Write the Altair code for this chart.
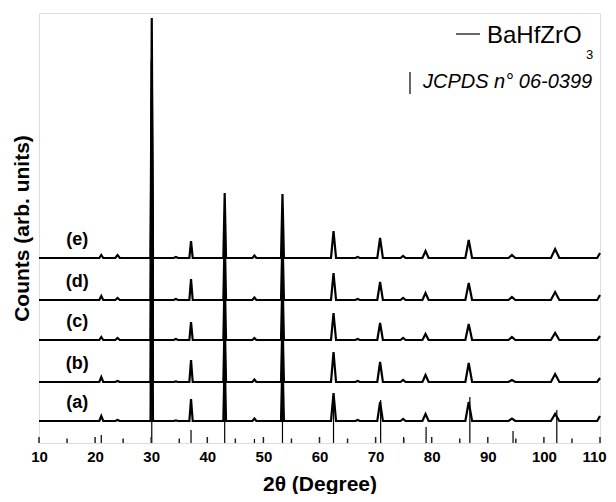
import altair as alt
import pandas as pd

# ---- data ----
peak_pos = [21.1, 24.0, 30.1, 34.4, 37.1, 43.1, 48.4, 53.4, 62.5, 66.8, 70.8, 74.9, 78.9, 86.6, 94.3, 102.0]
peak_halfwidth = [0.35, 0.4, 0.22, 0.4, 0.3, 0.24, 0.35, 0.26, 0.45, 0.4, 0.5, 0.45, 0.55, 0.6, 0.6, 0.75]

heights_a = [5, 1, 240, 0.5, 22, 65, 2.5, 64, 28, 1, 19, 2, 7, 19, 2.5, 7]
heights_b = [5, 1, 240, 0.5, 22, 65, 2.5, 64, 30, 1, 20, 2, 7, 19, 2, 8]
heights_c = [3, 2, 240, 1, 18, 65, 2, 64, 27, 1, 17, 2, 6, 16, 3, 7]
heights_d = [4, 2, 240, 1, 21, 65, 2.5, 64, 27, 1, 18, 2, 7, 17, 3, 8]
heights_e = [3, 3, 240, 1, 17, 65, 2.5, 64, 27, 1, 20, 2, 7, 18, 3, 9]

trace_names = ["(a)", "(b)", "(c)", "(d)", "(e)"]
trace_offsets = [22, 61, 103, 143, 185]
trace_heights = [heights_a, heights_b, heights_c, heights_d, heights_e]
edge_rise = [5, 4, 4, 5, 5]

jcpds_pos = [21.1, 30.1, 37.1, 43.1, 48.4, 53.4, 62.5, 70.9, 75.0, 79.0, 86.8, 94.5, 102.3]
jcpds_height = [8, 150, 13, 80, 4, 80, 45, 43, 6, 16, 46, 12, 33]

major_ticks = [10, 20, 30, 40, 50, 60, 70, 80, 90, 100, 110]
minor_ticks = [15, 25, 35, 45, 55, 65, 75, 85, 95, 105]

X_MIN, X_MAX = 10, 110
Y_MAX = 430

# ---- build tables ----
rows = []
for name, base, hs, er in zip(trace_names, trace_offsets, trace_heights, edge_rise):
    i = 0
    rows.append({"trace": name, "x": X_MIN, "y": base, "o": i}); i += 1
    for p, w, h in zip(peak_pos, peak_halfwidth, hs):
        for xx, yy in ((p - w, base), (p, base + h), (p + w, base)):
            rows.append({"trace": name, "x": xx, "y": yy, "o": i}); i += 1
    rows.append({"trace": name, "x": X_MAX - 0.5, "y": base, "o": i}); i += 1
    rows.append({"trace": name, "x": X_MAX, "y": base + er, "o": i}); i += 1
traces = pd.DataFrame(rows)

labels = pd.DataFrame({"trace": trace_names, "x": [16.8] * 5,
                       "y": [b + 18 for b in trace_offsets]})
jcpds = pd.DataFrame({"x": jcpds_pos, "y0": [0] * len(jcpds_pos), "y1": jcpds_height})
ticks = pd.DataFrame({"x": major_ticks + minor_ticks,
                      "y0": [0] * (len(major_ticks) + len(minor_ticks)),
                      "y1": [6] * len(major_ticks) + [4.5] * len(minor_ticks)})

FONT = "Liberation Sans"

xscale = alt.Scale(domain=[X_MIN, X_MAX], nice=False, zero=False)
yscale = alt.Scale(domain=[0, Y_MAX], nice=False, zero=False)

xaxis = alt.Axis(values=major_ticks, ticks=False, domain=False, grid=False,
                 labelFont=FONT, labelFontSize=15, labelFontWeight="bold",
                 labelColor="black", labelPadding=6, labelFlush=False,
                 labelOffset=alt.condition("datum.value == 110", alt.value(-6), alt.value(0)),
                 title="2θ (Degree)", titleFont=FONT, titleFontSize=21,
                 titleFontWeight="bold", titleColor="black", titlePadding=9)
yaxis = alt.Axis(labels=False, ticks=False, domain=False, grid=False,
                 title="Counts (arb. units)", titleFont=FONT, titleFontSize=21,
                 titleFontWeight="bold", titleColor="black", titlePadding=7)

lines = alt.Chart(traces).mark_line(color="black", strokeWidth=2.2).encode(
    x=alt.X("x:Q", scale=xscale, axis=xaxis),
    y=alt.Y("y:Q", scale=yscale, axis=yaxis),
    detail="trace:N",
    order="o:Q",
)

ref = alt.Chart(jcpds).mark_rule(color="black", strokeWidth=1.2).encode(
    x=alt.X("x:Q", scale=xscale),
    y=alt.Y("y0:Q", scale=yscale),
    y2="y1:Q",
)

tick_rules = alt.Chart(ticks).mark_rule(color="#222", strokeWidth=1.5).encode(
    x=alt.X("x:Q", scale=xscale),
    y=alt.Y("y0:Q", scale=yscale),
    y2="y1:Q",
)

label_text = alt.Chart(labels).mark_text(font=FONT, fontSize=18, fontWeight="bold",
                                         color="black", align="center", baseline="middle").encode(
    x=alt.X("x:Q", scale=xscale),
    y=alt.Y("y:Q", scale=yscale),
    text="trace:N",
)

# legend (annotation)
leg_line = alt.Chart(pd.DataFrame({"k": [0]})).mark_rule(color="black", strokeWidth=1.2).encode(
    x=alt.value(417), x2=alt.value(441), y=alt.value(21))
leg_t1 = alt.Chart(pd.DataFrame({"t": ["BaHfZrO"]})).mark_text(
    font=FONT, fontSize=24, align="left", baseline="alphabetic", color="black").encode(
    x=alt.value(448), y=alt.value(30), text="t:N")
leg_t1s = alt.Chart(pd.DataFrame({"t": ["3"]})).mark_text(
    font=FONT, fontSize=13, align="left", baseline="alphabetic", color="black").encode(
    x=alt.value(547), y=alt.value(46), text="t:N")
leg_bar = alt.Chart(pd.DataFrame({"k": [0]})).mark_rule(color="black", strokeWidth=1.2).encode(
    x=alt.value(371), y=alt.value(59), y2=alt.value(81))
leg_t2 = alt.Chart(pd.DataFrame({"t": ["JCPDS n° 06-0399"]})).mark_text(
    font=FONT, fontSize=20, fontStyle="italic", align="left", baseline="alphabetic",
    color="black").encode(x=alt.value(384), y=alt.value(75), text="t:N")

chart = alt.layer(ref, tick_rules, lines, label_text, leg_line, leg_t1, leg_t1s, leg_bar, leg_t2).properties(
    width=561, height=430,
    autosize=alt.AutoSizeParams(type="none"),
    padding={"left": 31, "top": 5, "right": 8, "bottom": 51},
).configure_view(stroke="#222", strokeWidth=1.5).configure(background="white")

chart.save("out.html", embed_options={"renderer": "svg", "actions": False})
